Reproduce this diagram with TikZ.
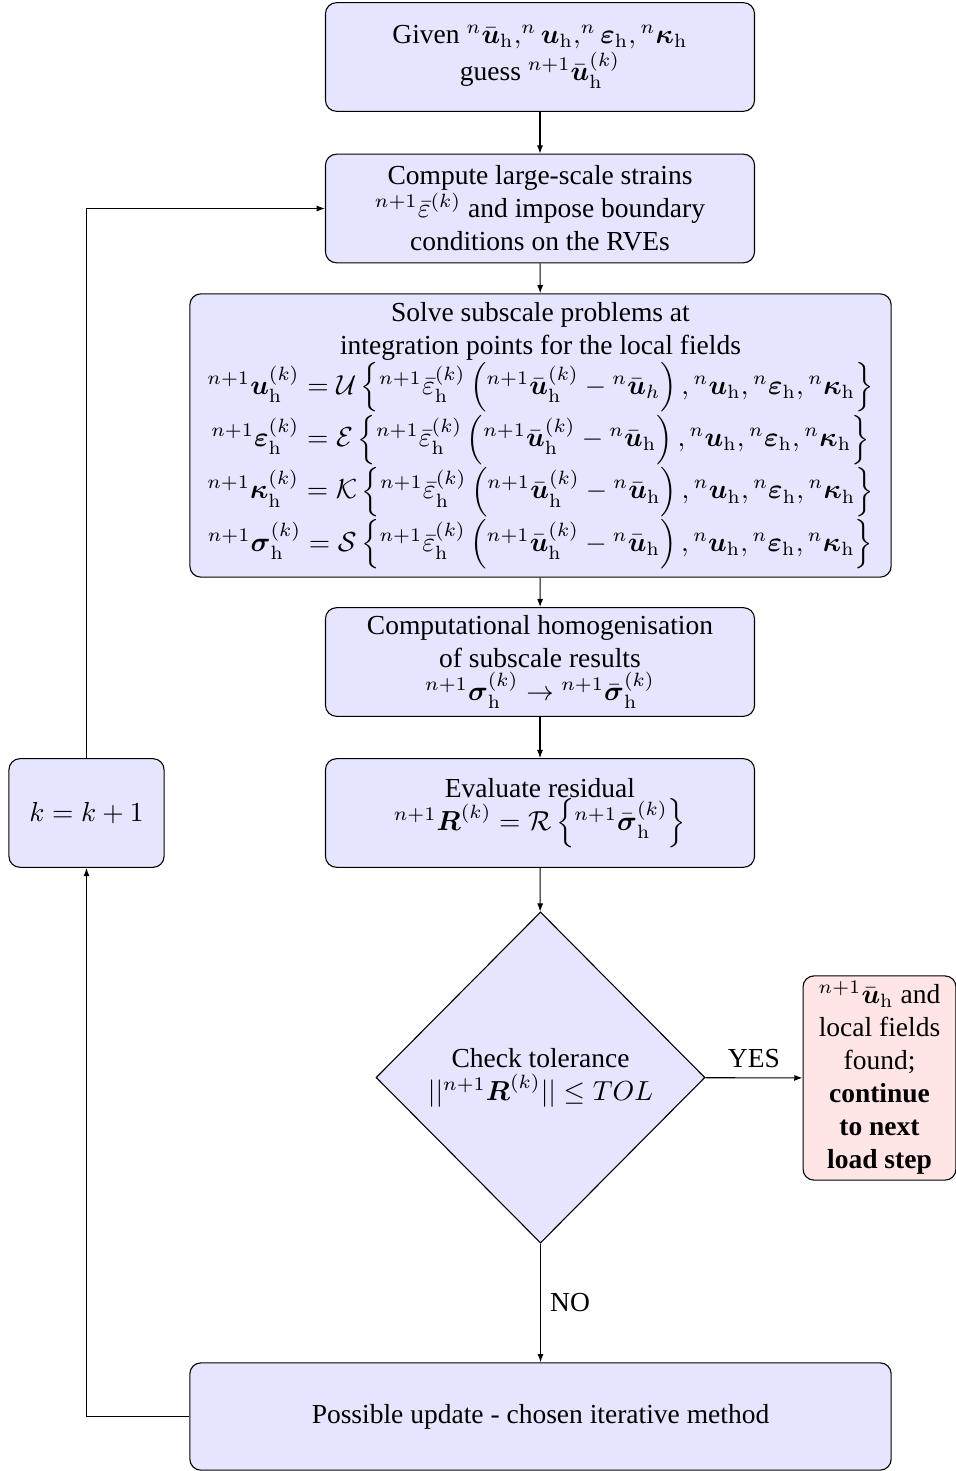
\documentclass[tikz,border=0pt]{standalone}
\usepackage{amsmath,amssymb}
\usepackage[no-math]{fontspec}
\setmainfont{Liberation Serif}
\usetikzlibrary{shapes.geometric,arrows.meta}
\newcommand{\bu}{\boldsymbol{u}}
\newcommand{\bub}{\bar{\boldsymbol{u}}}
\newcommand{\beps}{\boldsymbol{\varepsilon}}
\newcommand{\bkap}{\boldsymbol{\kappa}}
\newcommand{\bsig}{\boldsymbol{\sigma}}
\newcommand{\hh}{\mathrm{h}}
\newcommand{\eqrhs}[1]{\left\{{}^{n+1}\bar{\varepsilon}_\hh^{(k)}\left({}^{n+1}\bub_\hh^{(k)}-{}^{n}\bub_{#1}\right),{}^{n}\bu_\hh,{}^{n}\beps_\hh,{}^{n}\bkap_\hh\right\}}
\begin{document}
\begin{tikzpicture}[x=0.3636pt,y=-0.3636pt,
  blk/.style={draw, rounded corners=4pt, fill=blue!10, align=center, inner sep=2pt},
  midbox/.style={blk, minimum width=156pt, minimum height=39.5pt},
  widebox/.style={blk, minimum width=255pt},
  ln/.style={-{Latex[length=3pt,width=2.2pt]}}]
\useasboundingbox (0,0) rectangle (956,1471);
\node[midbox] (given) at (540,57) {Given ${}^{n}\bub_\hh,^{n}\bu_\hh,^{n}\beps_\hh,{}^{n}\bkap_\hh$\\ guess ${}^{n+1}\bub_\hh^{(k)}$};
\node[midbox] (strain) at (540,208.5) {Compute large-scale strains\\ ${}^{n+1}\bar{\varepsilon}^{(k)}$ and impose boundary\\ conditions on the RVEs};
\node[widebox, minimum height=103pt] (solve) at (540.5,435.5) {Solve subscale problems at\\ integration points for the local fields\\
${}^{n+1}\bu_\hh^{(k)}=\mathcal{U}\eqrhs{h}$\\
${}^{n+1}\beps_\hh^{(k)}=\mathcal{E}\eqrhs{\hh}$\\
${}^{n+1}\bkap_\hh^{(k)}=\mathcal{K}\eqrhs{\hh}$\\
${}^{n+1}\bsig_\hh^{(k)}=\mathcal{S}\eqrhs{\hh}$};
\node[midbox] (homog) at (540,662) {Computational homogenisation\\ of subscale results\\ ${}^{n+1}\bsig_\hh^{(k)}\rightarrow{}^{n+1}\bar{\bsig}_\hh^{(k)}$};
\node[midbox] (resid) at (540,813) {Evaluate residual\\ ${}^{n+1}\boldsymbol{R}^{(k)}=\mathcal{R}\left\{{}^{n+1}\bar{\bsig}_\hh^{(k)}\right\}$};
\node[draw, diamond, fill=blue!10, align=center, inner sep=0pt, minimum width=119.6pt, minimum height=120.4pt] (check) at (540.5,1077.5) {Check tolerance\\ $||{}^{n+1}\boldsymbol{R}^{(k)}||\leq TOL$};
\node[blk, fill=red!10, minimum width=55.6pt, minimum height=74.2pt] (found) at (879.5,1078) {${}^{n+1}\bub_\hh$ and\\ local fields\\ found;\\ \textbf{continue}\\ \textbf{to next}\\ \textbf{load step}};
\node[blk, minimum width=56.4pt, minimum height=39.5pt] (kinc) at (86.5,813) {$k=k+1$};
\node[widebox, minimum height=39pt] (update) at (540.5,1416.5) {Possible update - chosen iterative method};
\coordinate (c1) at (86.5,1416.5);
\coordinate (c2) at (86.5,208.5);
\draw[ln] (given) -- (strain);
\draw[ln] (strain) -- (solve);
\draw[ln] (solve) -- (homog);
\draw[ln] (homog) -- (resid);
\draw[ln] (resid) -- (check);
\draw[ln] (check) -- node[above] {YES} (found);
\draw[ln] (check) -- node[right, pos=0.5] {NO} (update);
\draw[ln] (update.west) -- (c1) -- (kinc.south);
\draw[ln] (kinc.north) -- (c2) -- (strain.west);
\end{tikzpicture}
\end{document}
